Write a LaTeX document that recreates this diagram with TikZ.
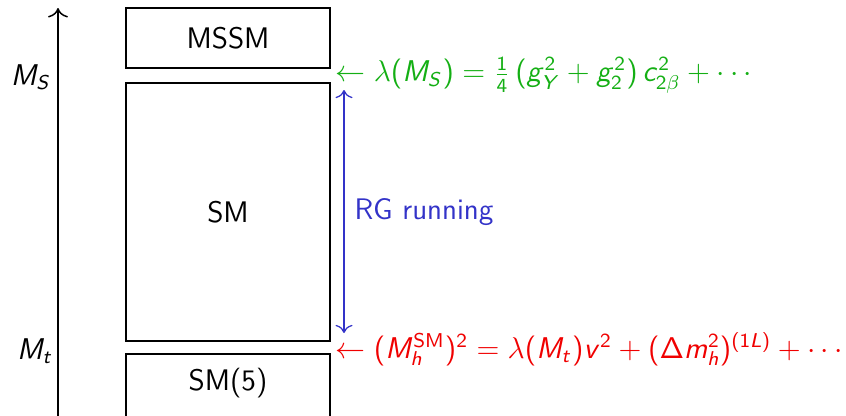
\documentclass[tikz,border=0pt]{standalone}
\usetikzlibrary{arrows.meta}
\DeclareSymbolFont{operators}{OT1}{cmss}{m}{n}
\DeclareSymbolFont{letters}{OT1}{cmss}{m}{sl}
\DeclareSymbolFont{greekletters}{OML}{cmm}{m}{it}
\DeclareMathSymbol{\lambda}{\mathord}{greekletters}{"15}
\DeclareMathSymbol{\beta}{\mathord}{greekletters}{"0C}
\definecolor{fgreen}{RGB}{20,175,20}
\definecolor{fblue}{RGB}{51,51,200}
\definecolor{fred}{RGB}{240,0,0}
\begin{document}
\begin{tikzpicture}[x=0.4pt,y=0.4pt,
  every node/.style={font=\fontsize{11.9}{14}\selectfont\sffamily},
  block/.style={draw,line width=0.78pt,minimum width=81.6pt,inner sep=0pt},
  axisarrow/.style={line width=0.6pt,-{To[scale=1.3]}},
  formula/.style={anchor=west,inner sep=0pt}]
\useasboundingbox (0,0) rectangle (846,415);
\clip (0,0) rectangle (846,415);
% axis
\coordinate (ax0) at (58,-2);
\coordinate (ax1) at (58,407);
\draw[axisarrow] (ax0) -- (ax1);
\node (ms) at (31,338) {$M_S$};
\node (mt) at (35,64) {$M_t$};
% boxes
\node[block,minimum height=24pt] (mssm) at (228,377) {MSSM};
\node[block,minimum height=103.2pt] (sm) at (228,203) {SM};
\node[block,minimum height=26.4pt] (sm5) at (228,28) {};
\node (sm5t) at (228,32) {SM(5)};
% formulas
\node[formula,text=fgreen] (fg) at (335,340) {$\leftarrow \lambda(M_S)=\frac{1}{4}\,(g_Y^2+g_2^2)\,c_{2\beta}^2+\cdots$};
\node[formula,text=fred] (fr) at (335,66) {$\leftarrow (M_h^{\mathrm{SM}})^2=\lambda(M_t)v^2+(\Delta m_h^2)^{(1L)}+\cdots$};
% RG arrow
\coordinate (rgtop) at (344,325);
\coordinate (rgbot) at (344,82);
\draw[fblue,line width=0.5pt,{To[scale=1.2]}-{To[scale=1.2]}] (rgbot) -- (rgtop);
\node[anchor=west,text=fblue,inner sep=0pt] (rg) at (354,203) {RG running};
\end{tikzpicture}
\end{document}
